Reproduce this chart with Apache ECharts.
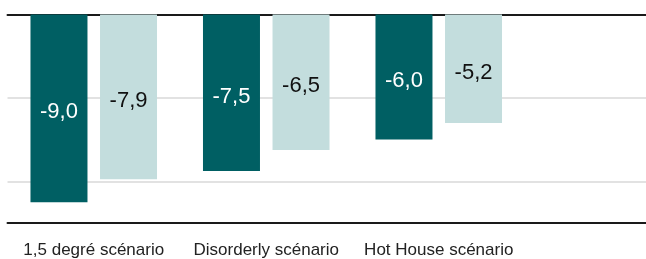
<!DOCTYPE html>
<html>
<head>
<meta charset="utf-8">
<script src="https://cdn.jsdelivr.net/npm/echarts@6/dist/echarts.min.js"></script>
<style>
  html, body { margin: 0; padding: 0; background: #fff; }
  #chart { width: 646px; height: 259px; }
</style>
</head>
<body>
<div id="chart"></div>
<script>
const categories = ['1,5 degré scénario', 'Disorderly scénario', 'Hot House scénario'];
const darkValues = [-9.0, -7.5, -6.0];
const lightValues = [-7.9, -6.5, -5.2];

const chart = echarts.init(document.getElementById('chart'));

const fmt = p => p.value.toFixed(1).replace('.', ',');

const option = {
  animation: false,
  textStyle: { fontFamily: 'Liberation Sans, Arial, sans-serif' },
  grid: [
    // full-width frame for gridlines and axis lines
    { left: 7.5, right: 0, top: 14.5, bottom: 36 },
    // bars (category area ends before the right edge)
    { left: 7.5, right: 121, top: 14.5, bottom: 36 }
  ],
  xAxis: [
    {
      gridIndex: 0, type: 'category', data: [''], position: 'bottom',
      axisLine: { onZero: false, lineStyle: { color: '#1a1a1a', width: 2 } },
      axisTick: { show: false }, axisLabel: { show: false }
    },
    {
      gridIndex: 0, type: 'category', data: [''], position: 'top',
      axisLine: { lineStyle: { color: '#1a1a1a', width: 2 } },
      axisTick: { show: false }, axisLabel: { show: false }
    },
    {
      gridIndex: 1, type: 'category', data: categories,
      axisLine: { show: false }, axisTick: { show: false },
      axisLabel: { color: '#222', fontSize: 17, margin: 19, interval: 0, hideOverlap: false }
    }
  ],
  yAxis: [
    {
      gridIndex: 0, type: 'value', min: -10, max: 0, interval: 2,
      axisLabel: { show: false }, axisLine: { show: false }, axisTick: { show: false },
      splitLine: { lineStyle: { color: ['rgba(0,0,0,0)', '#d9d9d9'], width: 1.5 } }
    },
    {
      gridIndex: 1, type: 'value', min: -10, max: 0,
      show: false, splitLine: { show: false }
    }
  ],
  series: [
    {
      name: 'Série 1', type: 'bar', xAxisIndex: 2, yAxisIndex: 1,
      data: darkValues, barWidth: 57, barGap: '22%',
      itemStyle: { color: '#005f63' },
      label: { show: true, position: 'inside', formatter: fmt, color: '#fff', fontSize: 22, offset: [0, 4] }
    },
    {
      name: 'Série 2', type: 'bar', xAxisIndex: 2, yAxisIndex: 1,
      data: lightValues, barWidth: 57,
      itemStyle: { color: '#c3dddd' },
      label: { show: true, position: 'inside', formatter: fmt, color: '#111', fontSize: 22, offset: [0, 4] }
    }
  ]
};

chart.setOption(option);
</script>
</body>
</html>
